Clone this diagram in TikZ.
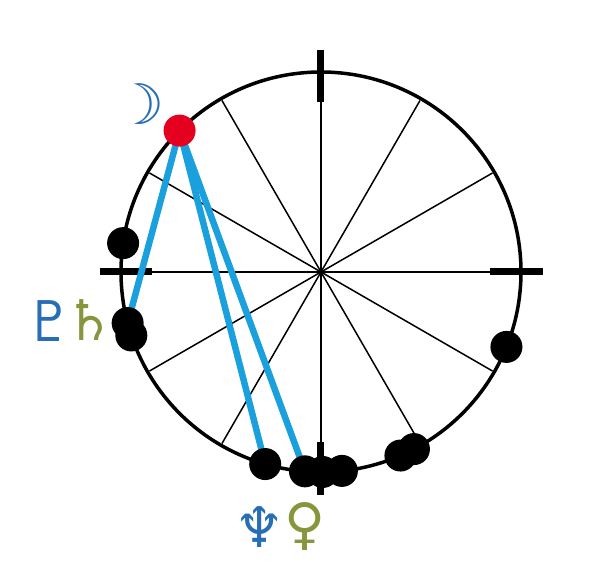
\documentclass[tikz,border=0pt]{standalone}
\usepackage{fontspec}
\newfontfamily\astro{DejaVu Sans}
\usetikzlibrary{positioning}
\definecolor{aspectblue}{RGB}{27,160,222}
\definecolor{glyphblue}{RGB}{40,110,180}
\definecolor{glyphgreen}{RGB}{135,150,60}
\definecolor{moonred}{RGB}{228,0,30}
\tikzset{
  planet/.style={circle,fill=black,inner sep=0pt,minimum size=32pt},
  aspect/.style={aspectblue,line width=6.5pt},
  glyph/.style={font=\astro\fontsize{56}{56}\selectfont,inner sep=0pt},
}

\begin{document}
\begin{tikzpicture}[x=1pt,y=1pt]
  \useasboundingbox (-321,-298) rectangle (293,272);
  % house spokes and axes
  \foreach \a in {30,60,120,150,210,240,300,330}
    \draw[line width=1.5pt] (0,0) -- (\a:198);
  \draw[line width=1.5pt] (-221,0) -- (222,0);
  \draw[line width=1.5pt] (0,222) -- (0,-223);
  \draw[line width=3.5pt] (0,0) circle (200pt);
  \draw[line width=7pt] (-221,0) -- (-169,0) (169,0) -- (222,0)
    (0,222) -- (0,170) (0,-170) -- (0,-223);
  % planet positions
  \coordinate (moon) at (135:200);
  \coordinate (pa) at (171.7:200);
  \coordinate (pluto) at (194.8:200);
  \coordinate (saturn) at (198.5:200);
  \coordinate (neptune) at (253.8:200);
  \coordinate (venus) at (265.4:200);
  \coordinate (pb) at (270.5:200);
  \coordinate (pc) at (276:200);
  \coordinate (pd) at (293.4:200);
  \coordinate (pe) at (297.7:200);
  \coordinate (pf) at (338:200);
  % aspects
  \draw[aspect] (moon) -- (pluto);
  \draw[aspect] (moon) -- (neptune);
  \draw[aspect] (moon) -- (venus);
  % planets
  \foreach \p in {pa,pluto,saturn,neptune,venus,pb,pc,pd,pe,pf}
    \node[planet] (\p dot) at (\p) {};
  \node[planet,fill=moonred] (moon dot) at (moon) {};
  % glyphs
  \node[glyph,glyphblue] (moon glyph) at (-181,168) {☽};
  \node[glyph,glyphblue] (pluto glyph) at (-271,-49) {♇};
  \node[glyph,glyphgreen] (saturn glyph) at (-231,-48) {♄};
  \node[glyph,glyphblue] (neptune glyph) at (-61,-255) {♆};
  \node[glyph,glyphgreen] (venus glyph) at (-16,-255) {♀};
\end{tikzpicture}
\end{document}
